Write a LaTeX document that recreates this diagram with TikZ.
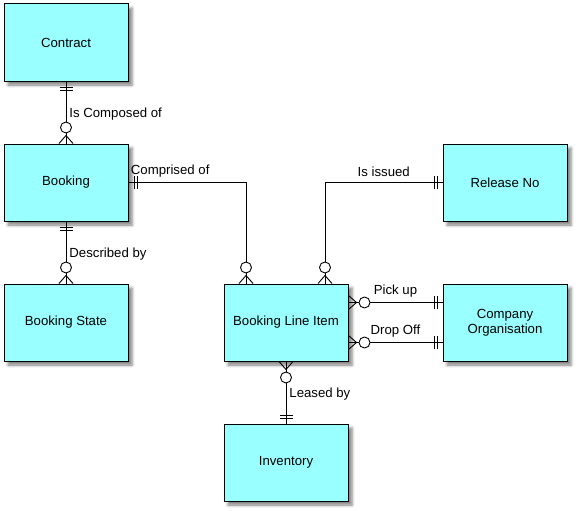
\documentclass[tikz,border=0pt]{standalone}
\usepackage{fontspec}
\setmainfont{Liberation Sans}
\usetikzlibrary{calc, shadows.blur}
\definecolor{entityCyan}{RGB}{153,255,255}

\tikzset{
  entity/.style={draw, line width=1pt, fill=entityCyan, minimum width=124pt, minimum height=77pt,
    align=center, font=\fontsize{13.2}{15}\selectfont,
    blur shadow={shadow xshift=4pt, shadow yshift=-4pt, shadow blur radius=3pt, shadow opacity=50}},
  link/.style={line width=0.9pt},
  lbl/.style={font=\fontsize{13.2}{15}\selectfont, inner sep=3pt},
  sidelbl/.style={lbl, yshift=-2pt},
  uplbl/.style={lbl, inner sep=5pt},
  zeromany/.pic={
    \draw[line width=0.9pt] (0,-7) -- (8,0) -- (0,7);
    \draw[line width=0.9pt, fill=white] (16,0) circle (5.5pt);
  },
  onlyone/.pic={
    \draw[line width=0.9pt] (5.5,-6.5) -- (5.5,6.5);
    \draw[line width=0.9pt] (8.5,-6.5) -- (8.5,6.5);
  }
}

\begin{document}
\begin{tikzpicture}[x=1pt, y=1pt]
\useasboundingbox (0,0) rectangle (578,-511);

% entities
\node[entity] (contract) at (66,-42.5)  {Contract};
\node[entity] (booking)  at (66,-182.5) {Booking};
\node[entity] (bstate)   at (66,-322.5) {Booking State};
\node[entity] (bli)      at (286,-322.5) {Booking Line Item};
\node[entity] (inventory) at (286,-462.5) {Inventory};
\node[entity] (release)  at (505,-182.5) {Release No};
\node[entity] (company)  at (505,-322.5) {Company\\Organisation};

% connector ends
\coordinate (bli-n1) at ($(bli.north)+(-40,0)$);
\coordinate (bli-n2) at ($(bli.north)+(39,0)$);
\coordinate (bli-e1) at ($(bli.east)+(0,20)$);
\coordinate (bli-e2) at ($(bli.east)+(0,-20)$);
\coordinate (co-w1)  at ($(company.west)+(0,20)$);
\coordinate (co-w2)  at ($(company.west)+(0,-20)$);

% relationships
\draw[link] (contract.south) -- node[sidelbl, right] {Is Composed of} (booking.north);
\draw[link] (booking.south) -- node[sidelbl, right] {Described by} (bstate.north);
\draw[link] (bli.south) -- node[sidelbl, right] {Leased by} (inventory.north);
\draw[link] (booking.east) -| node[uplbl, above right, pos=0, inner xsep=2pt] {Comprised of} (bli-n1);
\draw[link] (release.west) -| node[uplbl, above, pos=0.25] {Is issued} (bli-n2);
\draw[link] (bli-e1) -- node[uplbl, above] {Pick up} (co-w1);
\draw[link] (bli-e2) -- node[uplbl, above] {Drop Off} (co-w2);

% cardinality marks
\pic[rotate=-90] at (contract.south) {onlyone};
\pic[rotate=90]  at (booking.north) {zeromany};
\pic[rotate=-90] at (booking.south) {onlyone};
\pic[rotate=90]  at (bstate.north) {zeromany};
\pic             at (booking.east) {onlyone};
\pic[rotate=90]  at (bli-n1) {zeromany};
\pic[rotate=180] at (release.west) {onlyone};
\pic[rotate=90]  at (bli-n2) {zeromany};
\pic             at (bli-e1) {zeromany};
\pic             at (bli-e2) {zeromany};
\pic[rotate=180] at (co-w1) {onlyone};
\pic[rotate=180] at (co-w2) {onlyone};
\pic[rotate=-90] at (bli.south) {zeromany};
\pic[rotate=90]  at (inventory.north) {onlyone};
\end{tikzpicture}
\end{document}
